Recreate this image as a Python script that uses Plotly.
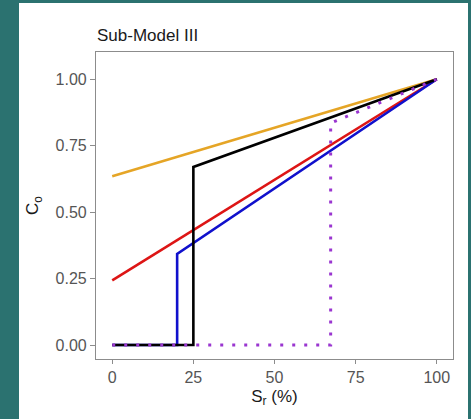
import plotly.graph_objects as go

# Data
orange_x = [0, 100]
orange_y = [0.635, 1.0]
red_x = [0, 100]
red_y = [0.243, 1.0]
blue_x = [0, 20, 20, 100]
blue_y = [0.0, 0.0, 0.343, 1.0]
black_x = [0, 25, 25, 100]
black_y = [0.0, 0.0, 0.670, 1.0]
purple_x = [0, 67.3, 67.3, 100]
purple_y = [0.0, 0.0, 0.835, 1.0]

x_ticks = [0, 25, 50, 75, 100]
y_ticks = [0.0, 0.25, 0.5, 0.75, 1.0]
y_tick_labels = ["0.00", "0.25", "0.50", "0.75", "1.00"]

W, H = 471, 419
L, R, T, B = 96, 18, 52, 60
pw, ph = W - L - R, H - T - B

def px_to_paper_x(px):
    return (px - L) / pw

def px_to_paper_y(py):
    return (H - B - py) / ph

fig = go.Figure()
series = [
    (orange_x, orange_y, "#E5A526", "solid"),
    (red_x, red_y, "#DD1515", "solid"),
    (blue_x, blue_y, "#1010CC", "solid"),
    (black_x, black_y, "#000000", "solid"),
    (purple_x, purple_y, "#9A36D0", "3px,9px"),
]
for xs, ys, c, d in series:
    fig.add_trace(go.Scatter(x=xs, y=ys, mode="lines",
                             line=dict(color=c, width=3 if d != "solid" else 2.6, dash=d),
                             showlegend=False, hoverinfo="skip"))

teal = "#2B7270"
fig.update_layout(
    width=W, height=H,
    margin=dict(l=L, r=R, t=T, b=B, pad=0),
    paper_bgcolor=teal,
    plot_bgcolor="white",
    font=dict(family="Liberation Sans, Arial, sans-serif", color="#4D4D4D", size=16),
    shapes=[dict(type="rect", xref="paper", yref="paper", layer="below",
                 x0=px_to_paper_x(19), x1=px_to_paper_x(468),
                 y0=px_to_paper_y(419), y1=px_to_paper_y(3),
                 fillcolor="white", line=dict(width=0))],
    annotations=[
        dict(text="Sub-Model III", xref="paper", yref="paper",
             x=px_to_paper_x(95), y=px_to_paper_y(24), xanchor="left", yanchor="top",
             showarrow=False, font=dict(size=17, color="#1a1a1a")),
    ],
    xaxis=dict(range=[-5, 105], tickvals=x_ticks, ticktext=[str(v) for v in x_ticks],
               showgrid=False, zeroline=False, showline=True, mirror=True,
               linecolor="#8C8C8C", linewidth=1.2, ticks="outside", ticklen=4,
               tickcolor="#8C8C8C", tickfont=dict(size=16, color="#555555"),
               title=dict(text="S<sub>r</sub> (%)", font=dict(size=17, color="#1a1a1a"), standoff=4)),
    yaxis=dict(range=[-0.0526, 1.1026], tickvals=y_ticks, ticktext=y_tick_labels,
               showgrid=False, zeroline=False, showline=True, mirror=True,
               linecolor="#8C8C8C", linewidth=1.2, ticks="outside", ticklen=5,
               tickcolor="#8C8C8C", tickfont=dict(size=16, color="#555555"),
               title=dict(text="C<sub>o</sub>", font=dict(size=17, color="#1a1a1a"), standoff=12)),
)

fig.write_html("out.html")
